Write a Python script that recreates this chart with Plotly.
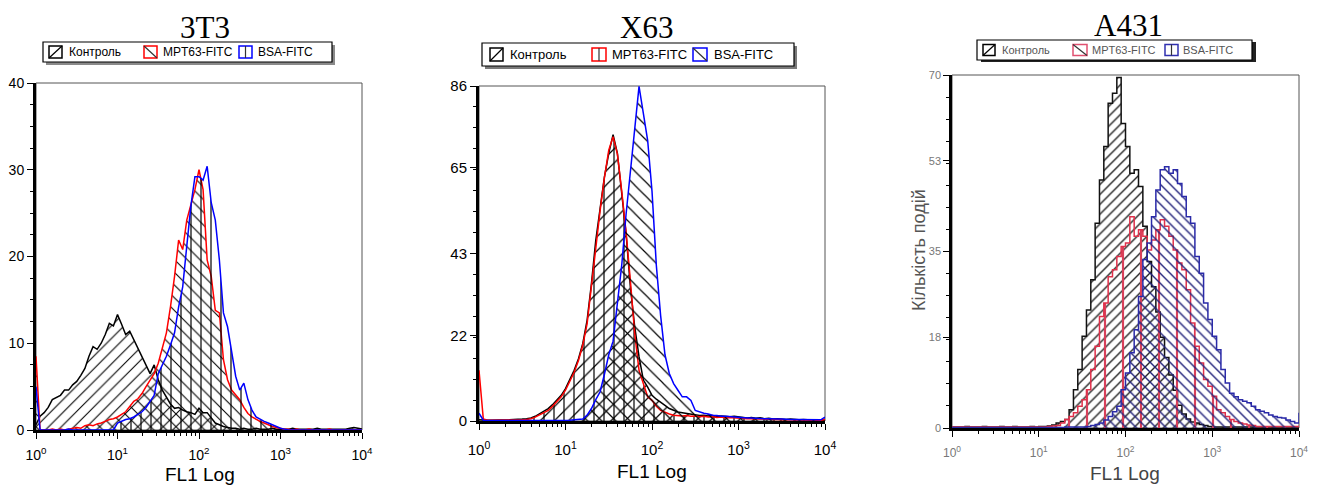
import plotly.graph_objects as go

W, H = 1317, 486

# FL1 channel positions (decades, log10 of fluorescence)
fl1_log = [0.00, 0.05, 0.10, 0.15, 0.20, 0.25, 0.30, 0.35, 0.40, 0.45,
           0.50, 0.55, 0.60, 0.65, 0.70, 0.75, 0.80, 0.85, 0.90, 0.95,
           1.00, 1.05, 1.10, 1.15, 1.20, 1.25, 1.30, 1.35, 1.40, 1.45,
           1.50, 1.55, 1.60, 1.65, 1.70, 1.75, 1.80, 1.85, 1.90, 1.95,
           2.00, 2.05, 2.10, 2.15, 2.20, 2.25, 2.30, 2.35, 2.40, 2.45,
           2.50, 2.55, 2.60, 2.65, 2.70, 2.75, 2.80, 2.85, 2.90, 2.95,
           3.00, 3.05, 3.10, 3.15, 3.20, 3.25, 3.30, 3.35, 3.40, 3.45,
           3.50, 3.55, 3.60, 3.65, 3.70, 3.75, 3.80, 3.85, 3.90, 3.95,
           4.00]
fl1 = [10 ** v for v in fl1_log]

series_names = ["Контроль", "MPT63-FITC", "BSA-FITC"]
panel_titles = ["3T3", "X63", "A431"]
x_tick_vals = [1, 10, 100, 1000, 10000]
x_tick_text = ["10<sup>0</sup>", "10<sup>1</sup>", "10<sup>2</sup>", "10<sup>3</sup>", "10<sup>4</sup>"]
y_ticks_3t3 = [0, 10, 20, 30, 40]
y_ticks_x63 = [0, 22, 43, 65, 86]
y_ticks_a431 = [0, 18, 35, 53, 70]

# ---- 3T3 ----
t3_control = [0.6, 1.6, 2.0, 2.6, 3.5, 3.8, 4.0, 4.6, 4.6, 5.2,
              5.6, 6.3, 7.1, 8.5, 9.6, 9.3, 10.0, 11.0, 12.3, 12.0,
              13.3, 12.2, 11.0, 11.4, 10.4, 9.6, 8.5, 7.5, 6.5, 7.5,
              5.8, 4.6, 3.8, 3.0, 2.5, 2.6, 2.3, 2.1, 2.0, 1.8,
              2.5, 2.0, 2.0, 1.4, 0.8, 0.6, 0.4, 0.3, 0.2, 0.2,
              0.1, 0.2, 0.1, 0.1, 0.2, 0.1, 0.1, 0.1, 0.2, 0.1,
              0.1, 0.1, 0.1, 0.2, 0.1, 0.1, 0.1, 0.1, 0.1, 0.2,
              0.1, 0.1, 0.1, 0.1, 0.1, 0.1, 0.1, 0.2, 0.3, 0.2,
              0.1]
t3_mpt63 = [8.5, 0.0, 0.0, 0.0, 0.1, 0.0, 0.1, 0.0, 0.1, 0.2,
            0.3, 0.2, 0.5, 0.6, 0.5, 0.7, 0.8, 1.0, 1.2, 1.3,
            1.5, 1.8, 2.1, 2.7, 3.3, 3.6, 4.2, 5.0, 5.8, 6.5,
            7.7, 9.5, 11.2, 14.2, 17.7, 21.9, 20.8, 24.2, 25.8, 27.7,
            30.0, 27.7, 19.6, 17.7, 13.8, 13.5, 8.1, 5.8, 4.6, 4.0,
            3.5, 2.6, 1.9, 1.5, 1.2, 1.0, 0.8, 0.6, 0.4, 0.3,
            0.2, 0.1, 0.1, 0.0, 0.1, 0.0, 0.0, 0.1, 0.0, 0.0,
            0.0, 0.0, 0.1, 0.0, 0.0, 0.0, 0.0, 0.0, 0.0, 0.0,
            0.0]
t3_bsa = [5.0, 0.0, 0.0, 0.0, 0.0, 0.0, 0.0, 0.0, 0.1, 0.0,
          0.0, 0.0, 0.0, 0.0, 0.0, 0.0, 0.0, 0.0, 0.0, 0.0,
          0.8, 1.0, 1.2, 1.3, 1.5, 1.8, 2.1, 2.6, 3.3, 4.0,
          6.5, 7.5, 8.5, 9.8, 11.2, 14.2, 16.5, 21.2, 25.8, 29.2,
          29.2, 28.8, 30.4, 26.2, 24.2, 19.6, 13.5, 11.9, 9.2, 6.2,
          4.6, 5.4, 3.5, 2.3, 1.5, 1.2, 1.0, 0.8, 0.6, 0.4,
          0.2, 0.1, 0.0, 0.0, 0.0, 0.0, 0.0, 0.0, 0.0, 0.0,
          0.0, 0.0, 0.0, 0.0, 0.0, 0.0, 0.0, 0.0, 0.0, 0.0,
          0.0]

# ---- X63 ----
x63_control = [0.3, 0.2, 0.2, 0.2, 0.2, 0.2, 0.3, 0.3, 0.4, 0.4,
               0.5, 0.6, 0.8, 1.2, 1.9, 2.5, 3.2, 4.2, 5.3, 6.6,
               8.3, 10.5, 13.0, 16.0, 19.9, 25.9, 35.3, 46.4, 54.2, 62.7,
               68.7, 73.5, 68.7, 58.4, 48.2, 34.4, 24.2, 16.5, 10.5, 8.7,
               6.6, 5.6, 4.9, 4.0, 3.2, 2.7, 2.3, 2.1, 1.9, 1.7,
               1.5, 1.4, 1.5, 1.3, 1.4, 1.2, 1.3, 1.2, 1.1, 1.2,
               1.0, 0.9, 0.8, 0.9, 0.7, 0.8, 0.6, 0.7, 0.5, 0.6,
               0.5, 0.4, 0.5, 0.4, 0.3, 0.4, 0.3, 0.3, 0.2, 0.3,
               0.2]
x63_mpt63 = [13.0, 0.5, 0.2, 0.2, 0.2, 0.2, 0.2, 0.2, 0.2, 0.2,
             0.3, 0.4, 0.6, 1.0, 1.6, 2.2, 2.7, 3.8, 4.9, 6.2,
             7.9, 10.0, 12.5, 15.5, 19.5, 25.0, 34.5, 45.5, 54.0, 62.5,
             69.5, 73.0, 68.5, 59.0, 48.5, 36.0, 22.5, 13.0, 9.6, 6.2,
             5.3, 3.8, 2.7, 2.2, 1.8, 1.5, 1.4, 1.3, 1.4, 1.2,
             1.3, 1.1, 1.2, 1.0, 1.1, 0.9, 1.0, 0.8, 0.9, 0.8,
             0.7, 0.7, 0.6, 0.6, 0.5, 0.5, 0.5, 0.4, 0.4, 0.4,
             0.3, 0.3, 0.3, 0.3, 0.2, 0.2, 0.2, 0.2, 0.2, 0.2,
             0.4]
x63_bsa = [2.0, 0.2, 0.1, 0.1, 0.1, 0.1, 0.1, 0.1, 0.1, 0.1,
           0.1, 0.1, 0.1, 0.1, 0.1, 0.1, 0.1, 0.1, 0.1, 0.1,
           0.2, 0.2, 0.3, 0.4, 0.5, 1.5, 3.2, 5.5, 7.5, 12.0,
           17.0, 20.5, 31.0, 40.0, 53.0, 63.6, 74.7, 85.9, 79.0, 72.0,
           59.0, 40.0, 27.0, 17.0, 12.2, 9.6, 7.9, 6.2, 6.2, 5.3,
           2.7, 2.3, 2.0, 1.8, 1.5, 1.4, 1.2, 1.2, 1.1, 1.0,
           1.0, 0.9, 0.8, 0.8, 0.7, 0.7, 0.6, 0.6, 0.5, 0.5,
           0.5, 0.4, 0.4, 0.4, 0.4, 0.3, 0.3, 0.3, 0.3, 0.3,
           1.0]

# ---- A431 ----
a431_control = [0.2, 0.2, 0.2, 0.3, 0.2, 0.2, 0.2, 0.3, 0.2, 0.2,
                0.2, 0.3, 0.2, 0.2, 0.3, 0.2, 0.2, 0.2, 0.3, 0.2,
                0.3, 0.3, 0.4, 0.6, 1.0, 1.3, 1.7, 3.6, 7.6, 11.6,
                18.2, 23.4, 29.4, 40.6, 49.2, 55.8, 64.4, 66.4, 69.5, 60.4,
                55.8, 50.5, 51.2, 47.9, 40.0, 33.0, 28.0, 23.0, 18.0, 14.0,
                10.5, 7.5, 4.5, 2.8, 1.8, 1.2, 1.0, 0.7, 0.5, 0.3,
                0.2, 0.2, 0.2, 0.2, 0.2, 0.2, 0.2, 0.2, 0.2, 0.2,
                0.2, 0.2, 0.2, 0.2, 0.2, 0.2, 0.2, 0.2, 0.2, 0.2,
                0.2]
a431_mpt63 = [0.2, 0.2, 0.2, 0.2, 0.2, 0.2, 0.2, 0.2, 0.2, 0.2,
              0.2, 0.2, 0.2, 0.2, 0.2, 0.2, 0.2, 0.2, 0.2, 0.2,
              0.2, 0.2, 0.3, 0.4, 0.5, 1.0, 1.7, 2.3, 3.0, 4.3,
              5.6, 7.6, 11.6, 16.2, 22.1, 24.8, 30.0, 31.4, 34.0, 36.0,
              36.7, 41.9, 38.0, 39.3, 38.0, 35.3, 37.3, 39.3, 41.3, 40.0,
              38.0, 35.3, 32.7, 31.4, 27.4, 20.8, 16.2, 12.9, 9.6, 8.3,
              6.3, 3.6, 3.0, 2.3, 1.7, 1.3, 1.0, 0.8, 0.6, 0.5,
              0.3, 0.3, 0.3, 0.3, 0.3, 0.3, 0.3, 0.3, 0.3, 0.3,
              0.5]
a431_bsa = [0.1, 0.1, 0.1, 0.1, 0.1, 0.1, 0.1, 0.1, 0.1, 0.1,
            0.1, 0.1, 0.1, 0.1, 0.1, 0.1, 0.1, 0.1, 0.1, 0.1,
            0.1, 0.1, 0.1, 0.1, 0.1, 0.1, 0.2, 0.2, 0.2, 0.2,
            0.2, 0.3, 0.5, 0.7, 1.0, 1.6, 2.3, 3.2, 4.3, 7.6,
            10.9, 14.9, 19.5, 26.1, 33.4, 36.7, 41.9, 47.2, 51.2, 51.8,
            50.5, 51.2, 48.5, 45.9, 41.9, 40.6, 34.0, 30.7, 24.8, 21.5,
            18.2, 15.5, 11.6, 8.9, 6.9, 6.2, 5.6, 5.3, 5.0, 4.3,
            3.6, 3.3, 3.0, 2.6, 2.3, 2.1, 2.0, 1.6, 1.3, 1.0,
            3.0]


def px(x):
    return x / W


def py(y):
    return 1 - y / H


fig = go.Figure()

panels = [
    dict(xa="x", ya="y", data=[t3_control, t3_mpt63, t3_bsa],
         colors=["black", "#ff0000", "#0000ff"],
         hatch=[("/", "black", 9, 0.12), ("\\", "black", 9, 0.12), ("|", "black", 10, 0.12)],
         shape="linear"),
    dict(xa="x2", ya="y2", data=[x63_control, x63_mpt63, x63_bsa],
         colors=["black", "#ff0000", "#0000ff"],
         hatch=[("/", "black", 10, 0.12), ("|", "black", 10, 0.12), ("\\", "black", 10, 0.12)],
         shape="linear"),
    dict(xa="x3", ya="y3", data=[a431_control, a431_mpt63, a431_bsa],
         colors=["#111111", "#e0304a", "#2a2aa8"],
         hatch=[("/", "#222222", 7, 0.2), ("|", "#d8405a", 18, 0.12), ("\\", "#22227a", 7, 0.2)],
         shape="hv"),
]

for p in panels:
    for name, vals, col, (hs, hc, hsz, hsol) in zip(series_names, p["data"], p["colors"], p["hatch"]):
        fig.add_trace(go.Scatter(
            x=fl1, y=vals, name=name, xaxis=p["xa"], yaxis=p["ya"],
            mode="lines", line=dict(color=col, width=1.5, shape=p["shape"]),
            fill="tozeroy", fillcolor="rgba(0,0,0,0)",
            fillpattern=dict(shape=hs, fgcolor=hc, bgcolor="rgba(0,0,0,0)",
                             size=hsz, solidity=hsol, fillmode="replace"),
            showlegend=False, hoverinfo="skip"))

minor_x = [m * d for d in (1, 10, 100, 1000) for m in range(2, 10)]

geo = [
    dict(x0=36, x1=362, ytop=83, ybot=430, yt=y_ticks_3t3, fc="black", fs=14, xfs=14, so=4),
    dict(x0=479, x1=825, ytop=86, ybot=421, yt=y_ticks_x63, fc="black", fs=15, xfs=15, so=7),
    dict(x0=952, x1=1299, ytop=75, ybot=428, yt=y_ticks_a431, fc="#777777", fs=11, xfs=12, so=6),
]

layout = dict(width=W, height=H, margin=dict(l=0, r=0, t=0, b=0, autoexpand=False),
              paper_bgcolor="white", plot_bgcolor="white", showlegend=False)
shapes = []
annotations = []
for i, g in enumerate(geo):
    sfx = "" if i == 0 else str(i + 1)
    layout["xaxis" + sfx] = dict(
        domain=[px(g["x0"]), px(g["x1"])], anchor="y" + sfx, type="log", range=[0, 4],
        tickmode="array", tickvals=x_tick_vals, ticktext=x_tick_text,
        ticks="outside", ticklen=6, tickwidth=1, tickcolor="black",
        ticklabelstandoff=g["so"],
        showline=True, linewidth=3 if i < 2 else 2.5, linecolor="black",
        showgrid=False, zeroline=False, automargin=False,
        tickfont=dict(family="Liberation Sans, Arial", size=g["xfs"], color=g["fc"]),
        minor=dict(tickmode="array", tickvals=minor_x, ticks="outside", ticklen=3,
                   tickcolor="black", showgrid=False))
    yr = g["yt"][-1]
    layout["yaxis" + sfx] = dict(
        domain=[py(g["ybot"]), py(g["ytop"])], anchor="x" + sfx, range=[0, yr],
        tickmode="array", tickvals=g["yt"], ticks="outside", ticklen=6, tickwidth=1,
        tickcolor="black", showline=True, linewidth=3 if i < 2 else 2.5, linecolor="black",
        showgrid=False, zeroline=False, automargin=False,
        tickfont=dict(family="Liberation Sans, Arial", size=g["fs"], color=g["fc"]),
        minor=dict(dtick=yr / 16, ticks="outside", ticklen=3, tickcolor="black", showgrid=False))
    # thin frame on top/right
    shapes.append(dict(type="rect", xref="x%s domain" % sfx, yref="y%s domain" % sfx,
                       x0=0, x1=1, y0=0, y1=1, line=dict(color="#555555", width=1),
                       layer="below"))

# titles
for t, cx, cy in zip(panel_titles, [205, 646, 1128], [27, 27, 25]):
    annotations.append(dict(text=t, x=px(cx), y=py(cy), xref="paper", yref="paper",
                            xanchor="center", yanchor="middle", showarrow=False,
                            font=dict(family="Liberation Serif, Times New Roman", size=31, color="black")))

# x axis titles
for cx, cy, col in [(200, 474, "black"), (652, 471, "black"), (1125, 473, "#444444")]:
    annotations.append(dict(text="FL1 Log", x=px(cx), y=py(cy), xref="paper", yref="paper",
                            xanchor="center", yanchor="middle", showarrow=False,
                            font=dict(family="Liberation Sans, Arial", size=19, color=col)))

# y axis title on third panel
annotations.append(dict(text="Кількість подій", x=px(919), y=py(250), xref="paper", yref="paper",
                        xanchor="center", yanchor="middle", showarrow=False, textangle=-90,
                        font=dict(family="Liberation Sans, Arial", size=18, color="#555555")))


# legends (boxes with drop shadow, hatch swatches, labels)
def legend(box, shadow, items, fsize, tcolor, icon_h):
    bx0, by0, bx1, by1 = box
    shapes.append(dict(type="rect", xref="paper", yref="paper",
                       x0=px(bx0 + shadow[0]), x1=px(bx1 + shadow[0]),
                       y0=py(by1 + shadow[1]), y1=py(by0 + shadow[1]),
                       line=dict(width=0), fillcolor=shadow[2], layer="above"))
    shapes.append(dict(type="rect", xref="paper", yref="paper",
                       x0=px(bx0), x1=px(bx1), y0=py(by1), y1=py(by0),
                       line=dict(color="black", width=1.2), fillcolor="white", layer="above"))
    cy = (by0 + by1) / 2
    for (ix0, ix1, icol, ihatch, tx, label) in items:
        iy0, iy1 = cy - icon_h / 2, cy + icon_h / 2
        shapes.append(dict(type="rect", xref="paper", yref="paper",
                           x0=px(ix0), x1=px(ix1), y0=py(iy1), y1=py(iy0),
                           line=dict(color=icol, width=1.5), fillcolor="white", layer="above"))
        if ihatch == "/":
            seg = (ix0, iy1, ix1, iy0)
        elif ihatch == "\\":
            seg = (ix0, iy0, ix1, iy1)
        else:
            m = (ix0 + ix1) / 2
            seg = (m, iy0, m, iy1)
        shapes.append(dict(type="line", xref="paper", yref="paper",
                           x0=px(seg[0]), y0=py(seg[1]), x1=px(seg[2]), y1=py(seg[3]),
                           line=dict(color="black" if icol == "black" else "#333333", width=1.2),
                           layer="above"))
        annotations.append(dict(text=label, x=px(tx), y=py(cy), xref="paper", yref="paper",
                                xanchor="left", yanchor="middle", showarrow=False,
                                font=dict(family="Liberation Sans, Arial", size=fsize, color=tcolor)))


legend((43, 42, 332, 62), (3, 3, "#8a8a8a"),
       [(49, 62, "black", "/", 67, series_names[0]),
        (144, 157, "#ff0000", "\\", 161, series_names[1]),
        (239, 252, "#0000ff", "|", 256, series_names[2])], 12, "black", 12)
legend((482, 43, 794, 66), (3, 3, "#7a7a7a"),
       [(490, 503, "black", "/", 508, series_names[0]),
        (592, 606, "#ff0000", "|", 610, series_names[1]),
        (693, 707, "#0000ff", "\\", 712, series_names[2])], 13, "black", 13)
legend((977, 40, 1252, 60), (4, 2, "#222222"),
       [(983, 995, "black", "/", 1000, series_names[0]),
        (1073, 1087, "#e05070", "\\", 1090, series_names[1]),
        (1165, 1178, "#3030b0", "|", 1181, series_names[2])], 11, "#555555", 11)

layout["shapes"] = shapes
layout["annotations"] = annotations
fig.update_layout(**layout)

fig.write_html("out.html")
